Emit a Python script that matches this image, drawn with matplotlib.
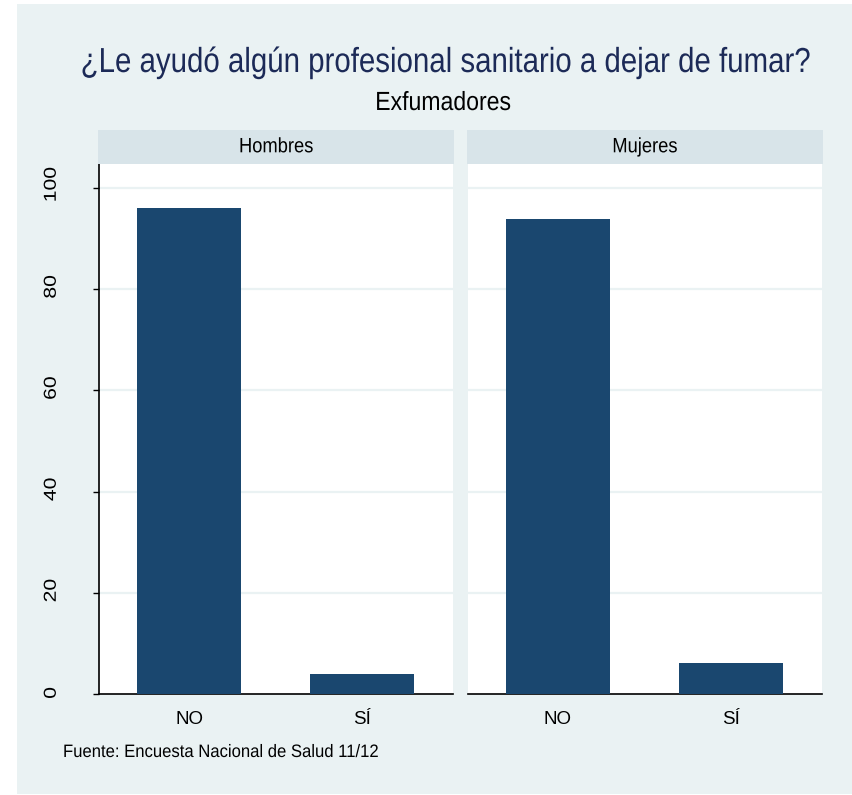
import matplotlib
matplotlib.use("Agg")
import matplotlib.pyplot as plt
from matplotlib.patches import Rectangle
from matplotlib.patheffects import AbstractPathEffect
from matplotlib.transforms import Affine2D

FONT = 'Liberation Sans'
plt.rcParams['font.family'] = [FONT, 'DejaVu Sans']

categories = ["NO", "SÍ"]
panels = ["Hombres", "Mujeres"]
values = {
    "Hombres": [96.1, 3.9],
    "Mujeres": [93.9, 6.1],
}
yticks = [0, 20, 40, 60, 80, 100]

title = "¿Le ayudó algún profesional sanitario a dejar de fumar?"
subtitle = "Exfumadores"
note = "Fuente: Encuesta Nacional de Salud 11/12"

BG = "#EAF2F3"
STRIP = "#D8E4E9"
BAR = "#1A476F"
TITLE_C = "#1C2A57"


class YStretch(AbstractPathEffect):
    """Stretch glyphs along display-y about the text origin (narrow-font look)."""
    def __init__(self, sy):
        super().__init__()
        self.sy = sy

    def draw_path(self, renderer, gc, tpath, affine, rgbFace=None):
        x0, y0 = affine.transform((0, 0))
        a = affine + Affine2D().translate(-x0, -y0).scale(1, self.sy).translate(x0, y0)
        renderer.draw_path(gc, tpath, a, rgbFace)


W, H = 852, 795
fig = plt.figure(figsize=(W / 100, H / 100), dpi=100, facecolor="white")


def fx(x):
    return x / W


def fy(y):
    return 1 - y / H


fig.patches.append(Rectangle((fx(17), fy(794)), fx(852) - fx(17), fy(4) - fy(794),
                             transform=fig.transFigure, facecolor=BG, edgecolor="none", zorder=-10))

panel_x = [(99.3, 453.3), (467.7, 822.3)]
ytop, ybot = 164, 694
stop, sbot = 129.5, 163.5

x = list(range(len(categories)))
for i, (name, (x0, x1)) in enumerate(zip(panels, panel_x)):
    ax = fig.add_axes([fx(x0), fy(ybot), fx(x1) - fx(x0), fy(ytop) - fy(ybot)])
    ax.set_facecolor("white")
    ax.bar(x, values[name], width=0.6, color=BAR, zorder=3)
    ax.set_xlim(-0.52, 1.525)
    ax.set_ylim(0, 104.7)
    ax.set_yticks(yticks)
    for t in yticks[1:]:
        ax.axhline(t, color=BG, lw=1.6, zorder=1)
    ax.set_xticks(x)
    ax.set_xticklabels(categories, fontsize=13.5)
    ax.tick_params(axis="x", length=0, pad=12)
    for s in ["top", "right"]:
        ax.spines[s].set_visible(False)
    ax.spines["bottom"].set_color("black")
    ax.spines["bottom"].set_linewidth(1.2)
    if i == 0:
        ax.spines["left"].set_linewidth(1.2)
        labels = ax.set_yticklabels([str(t) for t in yticks], rotation=90, va="center",
                                    fontsize=12.5)
        for lbl in labels:
            lbl.set_path_effects([YStretch(1.22)])
        ax.tick_params(axis="y", length=6.5 * 72 / 100, width=1.0, pad=24.5)
    else:
        ax.spines["left"].set_visible(False)
        ax.set_yticks([])
    # strip
    sax = fig.add_axes([fx(x0 - 1), fy(sbot), fx(x1 + 1) - fx(x0 - 1), fy(stop) - fy(sbot)])
    sax.set_facecolor(STRIP)
    sax.set_xticks([])
    sax.set_yticks([])
    for s in sax.spines.values():
        s.set_visible(False)
    fig.text(fx((x0 + x1) / 2), fy(152.3), name, ha="center", va="baseline",
             fontsize=13.2, path_effects=[YStretch(1.135)])

fig.text(fx(445), fy(72), title, ha="center", va="baseline", fontsize=21.2,
         color=TITLE_C, path_effects=[YStretch(1.18)])
fig.text(fx(443), fy(110), subtitle, ha="center", va="baseline", fontsize=16.6,
         color="black", path_effects=[YStretch(1.14)])
fig.text(fx(63), fy(757), note, ha="left", va="baseline", fontsize=12.0,
         color="black", path_effects=[YStretch(1.08)])

fig.savefig("out.png", dpi=100, facecolor="white")
